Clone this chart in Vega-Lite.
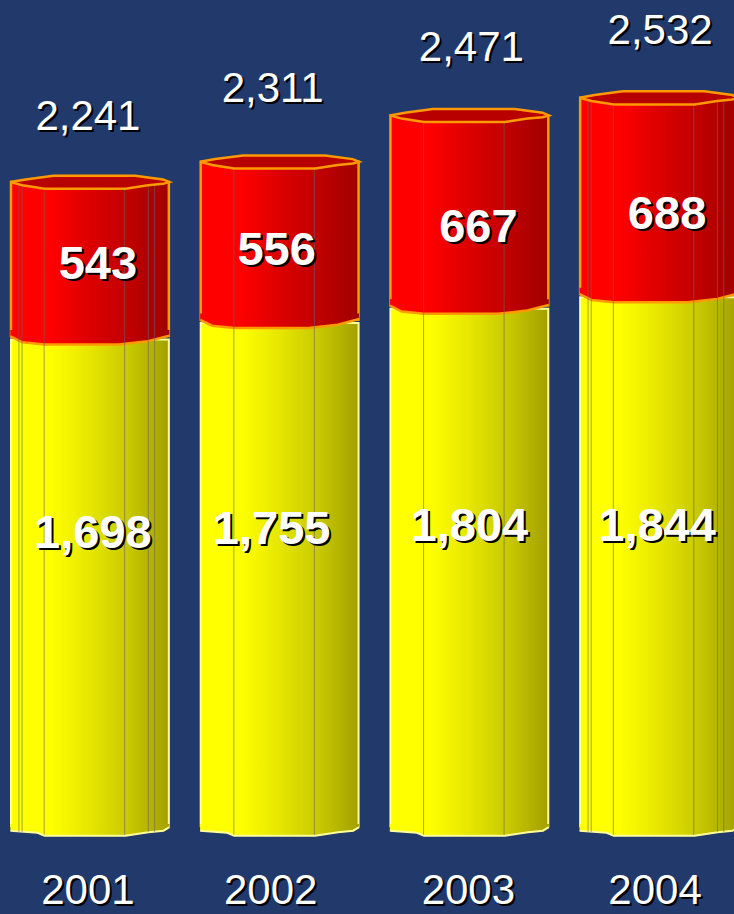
{"$schema":"https://vega.github.io/schema/vega-lite/v6.json","width":734,"height":914,"padding":0,"autosize":{"type":"none"},"background":"#223a6b","view":{"stroke":null},"config":{"axis":{"disable":true}},
"data":{"values":[{"year":2001,"yellow":1698,"red":543,"total":2241},{"year":2002,"yellow":1755,"red":556,"total":2311},{"year":2003,"yellow":1804,"red":667,"total":2471},{"year":2004,"yellow":1844,"red":688,"total":2532}]},
"transform":[{"calculate":"datum.yellow/2","as":"yellowMid"},{"calculate":"datum.yellow+datum.red/2","as":"redMid"},{"calculate":"datum.yellow+12","as":"redBase"}],
"encoding":{"x":{"field":"year","type":"nominal","axis":null,"scale":{"type":"band","range":[11,738],"paddingInner":0.168,"paddingOuter":0}}},
"layer":[
{"mark":{"type":"bar","stroke":"#ffff99","strokeWidth":2,"fill":{"gradient":"linear","x1":0,"y1":0,"x2":1,"y2":0,"stops":[{"offset":0,"color":"#ffff00"},{"offset":0.25,"color":"#ffff00"},{"offset":0.5,"color":"#e6e600"},{"offset":0.75,"color":"#c8c800"},{"offset":1,"color":"#a3a000"}]}},"encoding":{"y":{"field":"yellow","type":"quantitative","axis":null,"scale":{"domain":[-283,2869],"nice":false,"zero":false}},"y2":{"datum":20}}},
{"mark":{"type":"point","filled":true,"opacity":1,"size":25281,"shape":"M-1 -.1 L1 -.1 L1 -.06 L.925 -.016 L.736 .004 L.447 .047 L-.57 .047 L-.66 .01 L-1 -.016 Z","fill":{"gradient":"linear","x1":0,"y1":0,"x2":1,"y2":0,"stops":[{"offset":0,"color":"#ffff00"},{"offset":0.25,"color":"#ffff00"},{"offset":0.5,"color":"#e6e600"},{"offset":0.75,"color":"#c8c800"},{"offset":1,"color":"#a3a000"}]}},"encoding":{"y":{"datum":0}}},
{"mark":{"type":"point","filled":false,"opacity":1,"size":25281,"strokeWidth":2,"stroke":"#ffff99","shape":"M-1 -.016 L-.66 .01 L-.57 .047 L.447 .047 L.736 .004 L.925 -.016 L1 -.06"},"encoding":{"y":{"datum":0}}},
{"mark":{"type":"bar","stroke":"#ff9900","strokeWidth":2.5,"fill":{"gradient":"linear","x1":0,"y1":0,"x2":1,"y2":0,"stops":[{"offset":0,"color":"#ff0000"},{"offset":0.25,"color":"#ff0000"},{"offset":0.5,"color":"#dc0000"},{"offset":0.75,"color":"#c00000"},{"offset":1,"color":"#a00000"}]}},"encoding":{"y":{"field":"total","type":"quantitative"},"y2":{"field":"redBase"}}},
{"mark":{"type":"point","filled":true,"opacity":1,"size":25281,"shape":"M-1 -.12 L1 -.12 L1 -.05 L.73 .022 L.36 .063 L-.57 .063 L-.85 .034 L-1 -.04 Z","fill":{"gradient":"linear","x1":0,"y1":0,"x2":1,"y2":0,"stops":[{"offset":0,"color":"#ff0000"},{"offset":0.25,"color":"#ff0000"},{"offset":0.5,"color":"#dc0000"},{"offset":0.75,"color":"#c00000"},{"offset":1,"color":"#a00000"}]}},"encoding":{"y":{"field":"yellow","type":"quantitative"}}},
{"mark":{"type":"point","filled":false,"opacity":1,"size":25281,"strokeWidth":2.5,"stroke":"#ff9900","shape":"M-1 -.04 L-.85 .034 L-.57 .063 L.36 .063 L.73 .022 L1 -.05"},"encoding":{"y":{"field":"yellow","type":"quantitative"}}},
{"mark":{"type":"rule","color":"#666666","strokeWidth":1,"opacity":0.6},"encoding":{"x":{"field":"year","type":"nominal","bandPosition":0.21},"y":{"field":"total","type":"quantitative"},"y2":{"datum":-10}}},
{"mark":{"type":"rule","color":"#666666","strokeWidth":1,"opacity":0.6},"encoding":{"x":{"field":"year","type":"nominal","bandPosition":0.72},"y":{"field":"total","type":"quantitative"},"y2":{"datum":-10}}},
{"transform":[{"filter":"datum.year==2001||datum.year==2004"}],"mark":{"type":"rule","color":"#666666","strokeWidth":1,"opacity":0.6},"encoding":{"x":{"field":"year","type":"nominal","bandPosition":0.05},"y":{"field":"total","type":"quantitative"},"y2":{"datum":0}}},
{"transform":[{"filter":"datum.year==2001||datum.year==2004"}],"mark":{"type":"rule","color":"#666666","strokeWidth":1,"opacity":0.6},"encoding":{"x":{"field":"year","type":"nominal","bandPosition":0.07},"y":{"field":"total","type":"quantitative"},"y2":{"datum":0}}},
{"transform":[{"filter":"datum.year==2001||datum.year==2004"}],"mark":{"type":"rule","color":"#666666","strokeWidth":1,"opacity":0.6},"encoding":{"x":{"field":"year","type":"nominal","bandPosition":0.87},"y":{"field":"total","type":"quantitative"},"y2":{"datum":0}}},
{"transform":[{"filter":"datum.year==2001||datum.year==2004"}],"mark":{"type":"rule","color":"#666666","strokeWidth":1,"opacity":0.6},"encoding":{"x":{"field":"year","type":"nominal","bandPosition":0.91},"y":{"field":"total","type":"quantitative"},"y2":{"datum":0}}},
{"mark":{"type":"point","filled":true,"opacity":1,"size":25281,"strokeWidth":2.5,"stroke":"#ff9900","fill":"#b80000","shape":"M-1 0 L-.81 -.034 L-.46 -.08 L.57 -.08 L.92 -.034 L1 0 L.92 .022 L.73 .04 L.447 .084 L-.572 .084 L-.85 .04 Z"},"encoding":{"y":{"field":"total","type":"quantitative"}}},
{"mark":{"type":"text","font":"Liberation Sans","fontWeight":"bold","fontSize":47,"fill":"#000000","baseline":"middle","dx":{"expr":"(datum.year==2001?3:datum.year==2002?-8:datum.year==2003?0:-2)+2"},"dy":{"expr":"(datum.year==2001?-52:datum.year==2002?-47:datum.year==2003?-43:-38)+2"}},"encoding":{"y":{"field":"yellowMid","type":"quantitative"},"text":{"field":"yellow","type":"quantitative","format":","}}},
{"mark":{"type":"text","font":"Liberation Sans","fontWeight":"bold","fontSize":47,"fill":"#ffffff","baseline":"middle","dx":{"expr":"datum.year==2001?3:datum.year==2002?-8:datum.year==2003?0:-2"},"dy":{"expr":"datum.year==2001?-52:datum.year==2002?-47:datum.year==2003?-43:-38"}},"encoding":{"y":{"field":"yellowMid","type":"quantitative"},"text":{"field":"yellow","type":"quantitative","format":","}}},
{"mark":{"type":"text","font":"Liberation Sans","fontWeight":"bold","fontSize":47,"fill":"#000000","baseline":"middle","dx":{"expr":"(datum.year==2001?8:datum.year==2002?-3:datum.year==2003?9:8)+2"},"dy":{"expr":"(datum.year==2001?4:datum.year==2002?9:datum.year==2003?16:18)+2"}},"encoding":{"y":{"field":"redMid","type":"quantitative"},"text":{"field":"red","type":"quantitative"}}},
{"mark":{"type":"text","font":"Liberation Sans","fontWeight":"bold","fontSize":47,"fill":"#ffffff","baseline":"middle","dx":{"expr":"datum.year==2001?8:datum.year==2002?-3:datum.year==2003?9:8"},"dy":{"expr":"datum.year==2001?4:datum.year==2002?9:datum.year==2003?16:18"}},"encoding":{"y":{"field":"redMid","type":"quantitative"},"text":{"field":"red","type":"quantitative"}}},
{"mark":{"type":"text","font":"Liberation Sans","fontSize":42,"fill":"#000000","baseline":"middle","dx":{"expr":"(datum.year==2001?-2:datum.year==2002?-7:datum.year==2003?2:1)+2"},"dy":{"expr":"(datum.year==2001?-65:datum.year==2002?-73:datum.year==2003?-67:-67)+2"}},"encoding":{"y":{"field":"total","type":"quantitative"},"text":{"field":"total","type":"quantitative","format":","}}},
{"mark":{"type":"text","font":"Liberation Sans","fontSize":42,"fill":"#ffffff","baseline":"middle","dx":{"expr":"datum.year==2001?-2:datum.year==2002?-7:datum.year==2003?2:1"},"dy":{"expr":"datum.year==2001?-65:datum.year==2002?-73:datum.year==2003?-67:-67"}},"encoding":{"y":{"field":"total","type":"quantitative"},"text":{"field":"total","type":"quantitative","format":","}}},
{"mark":{"type":"text","font":"Liberation Sans","fontSize":42,"fill":"#000000","baseline":"middle","dy":61,"dx":{"expr":"(datum.year==2001?-2:datum.year==2002?-9:datum.year==2003?-1:-4)+2"}},"encoding":{"y":{"datum":0},"text":{"field":"year","type":"nominal"}}},
{"mark":{"type":"text","font":"Liberation Sans","fontSize":42,"fill":"#ffffff","baseline":"middle","dy":59,"dx":{"expr":"datum.year==2001?-2:datum.year==2002?-9:datum.year==2003?-1:-4"}},"encoding":{"y":{"datum":0},"text":{"field":"year","type":"nominal"}}}
]}
